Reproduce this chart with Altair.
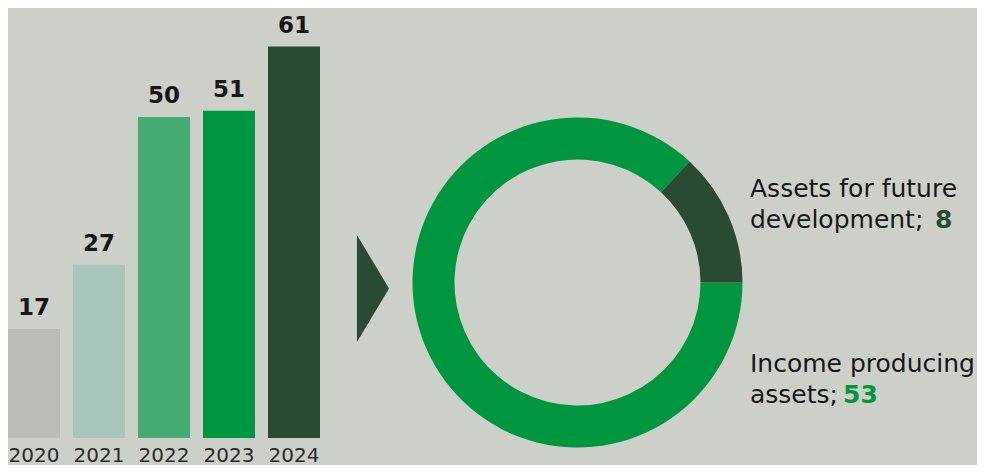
import math
import altair as alt
import pandas as pd

# ---- data ----
years = ["2020", "2021", "2022", "2023", "2024"]
values = [17, 27, 50, 51, 61]

segments = ["Income producing assets", "Assets for future development"]
seg_values = [53, 8]
seg_order = [0, 1]

# ---- styles ----
bar_colors = ["#b9bdb5", "#a9c6bb", "#45ab72", "#00963f", "#2a4b33"]
seg_colors = ["#00963f", "#2a4b33"]
BG = "#cdd0c9"
FONT = "DejaVu Sans"
TXT = "#161616"

bars_df = pd.DataFrame({"year": years, "value": values})
donut_df = pd.DataFrame({"segment": segments, "value": seg_values, "ord": seg_order})
one = pd.DataFrame({"k": [0]})

x = alt.X(
    "year:N",
    sort=years,
    scale=alt.Scale(paddingInner=0.2, paddingOuter=0),
    axis=alt.Axis(
        title=None, labelAngle=0, domain=False, ticks=False, grid=False,
        labelFontSize=20, labelColor="#2a2a2a", labelFont=FONT, labelPadding=7,
    ),
)
y = alt.Y("value:Q", scale=alt.Scale(domain=[0, 67], nice=False, zero=True), axis=None)

bars = alt.Chart(bars_df).mark_bar().encode(
    x=x, y=y,
    color=alt.Color("year:N", scale=alt.Scale(domain=years, range=bar_colors), legend=None),
)
bar_labels = alt.Chart(bars_df).mark_text(
    dy=-14, baseline="alphabetic", fontSize=23, fontWeight="bold", font=FONT, color=TXT
).encode(x=x, y=y, text="value:Q")

bar_chart = alt.layer(bars, bar_labels).properties(width=312, height=430)

# ---- donut ----
CX, CY = 257.5, 274.5
arc = alt.Chart(donut_df).mark_arc(outerRadius=165, innerRadius=123).encode(
    theta=alt.Theta("value:Q", stack=True,
                    scale=alt.Scale(range=[math.pi / 2, math.pi / 2 + 2 * math.pi])),
    color=alt.Color("segment:N", scale=alt.Scale(domain=segments, range=seg_colors), legend=None),
    order=alt.Order("ord:Q"),
    x=alt.value(CX),
    y=alt.value(CY),
)

tri = alt.Chart(one).mark_point(
    shape="M -0.3 -1 L 0.3 0 L -0.3 1 Z", size=11449, filled=True,
    color="#2a4b33", opacity=1, strokeWidth=0,
).encode(x=alt.value(53), y=alt.value(280.5))


def txt(s, px, py, color=TXT, weight="normal"):
    return alt.Chart(one).mark_text(
        text=s, align="left", baseline="alphabetic", fontSize=25,
        font=FONT, color=color, fontWeight=weight,
    ).encode(x=alt.value(px), y=alt.value(py))


t1 = txt("Assets for future", 430, 189)
t2 = txt("development;", 430, 220)
t2n = txt(str(seg_values[1]), 615, 220, color=seg_colors[1], weight="bold")
t3 = txt("Income producing", 430, 364)
t4 = txt("assets;", 430, 395)
t4n = txt(str(seg_values[0]), 523, 395, color=seg_colors[0], weight="bold")

donut_chart = alt.layer(arc, tri, t1, t2, t2n, t3, t4, t4n).properties(width=657, height=430)

chart = (
    alt.hconcat(bar_chart, donut_chart, spacing=0)
    .resolve_scale(color="independent")
    .properties(padding=0, background=BG)
    .configure_view(stroke=None)
)

chart.save("out.html", embed_options={"renderer": "svg", "actions": False})
